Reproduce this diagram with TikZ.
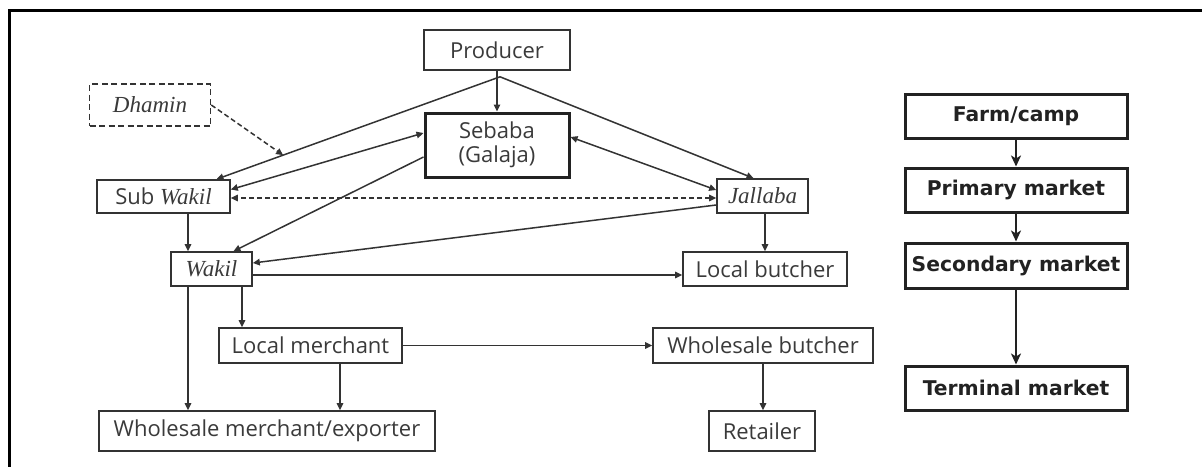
\documentclass[tikz,border=0pt]{standalone}
\usepackage{fontspec}
\usetikzlibrary{calc,arrows.meta}
\newfontfamily\sansf{Open Sans}
\newfontfamily\serf{Liberation Serif}
\newfontfamily\boldf{DejaVu Sans}
\definecolor{ln}{HTML}{333333}
\definecolor{tx}{HTML}{3A3A3A}
\definecolor{dk}{HTML}{222222}
\tikzset{
  box/.style={draw=ln, line width=1.6pt, inner sep=0pt, text=tx, align=center,
    font=\sansf\fontsize{22}{24}\selectfont},
  thickbox/.style={box, line width=3pt, draw=dk},
  dbox/.style={box, dash pattern=on 6pt off 3.5pt},
  stage/.style={draw=dk, line width=3pt, inner sep=0pt, text=dk,
    minimum width=222pt, minimum height=44pt,
    font=\boldf\bfseries\fontsize{20.3}{22}\selectfont},
  conn/.style={draw=ln, line width=1.5pt, -{Triangle[length=7pt,width=6.5pt]}},
  bconn/.style={conn, {Triangle[length=7pt,width=6.5pt]}-{Triangle[length=7pt,width=6.5pt]}},
  dconn/.style={conn, dash pattern=on 5pt off 3pt},
  sconn/.style={draw=dk, line width=2.8pt, -{Stealth[length=11pt,width=10pt,inset=3pt]}},
  it/.style={font=\serf\itshape\fontsize{23}{24}\selectfont}
}
\begin{document}
\begin{tikzpicture}[x=1pt,y=-1pt]
\useasboundingbox (0,0) rectangle (1202,467);
% frame
\draw[line width=3pt, draw=black] (1202,10.5) -- (9.5,10.5) -- (9.5,467);
% nodes
\node[box, minimum width=146pt, minimum height=40pt] (prod) at (497,50) {Producer};
\node[thickbox, minimum width=144pt, minimum height=64pt] (seb) at (497,145) {Sebaba\\(Galaja)};
\node[dbox, minimum width=121pt, minimum height=42pt, it] (dham) at (150,105) {Dhamin};
\node[box, minimum width=133pt, minimum height=33pt] (subw) at (163.5,196.5) {Sub {\serf\itshape\fontsize{23}{24}\selectfont Wakil}};
\node[box, minimum width=91pt, minimum height=34pt, it] (jal) at (762.5,196) {Jallaba};
\node[box, minimum width=81pt, minimum height=34pt, it] (wak) at (211.5,269) {Wakil};
\node[box, minimum width=164pt, minimum height=34pt] (lb) at (765,269) {Local butcher};
\node[box, minimum width=183pt, minimum height=35pt] (lm) at (310.5,345.5) {Local merchant};
\node[box, minimum width=220pt, minimum height=35pt] (wb) at (763,345.5) {Wholesale butcher};
\node[box, minimum width=336pt, minimum height=40pt] (wm) at (267,431) {Wholesale merchant/exporter};
\node[box, minimum width=106pt, minimum height=40pt] (ret) at (762,431) {Retailer};
% stages
\node[stage] (farm) at (1016,116) {Farm/camp};
\node[stage] (prim) at (1016,190) {Primary market};
\node[stage, minimum height=45pt] (sec) at (1016,265.5) {Secondary market};
\node[stage] (term) at (1016,388) {Terminal market};
% connectors
\coordinate (pf) at ($(prod.south)+(3,6)$);
\coordinate (sw1) at ($(subw.north)+(53,0)$);
\coordinate (dh) at ($(pf)!0.765!(sw1)$);
\draw[conn] (prod.south) -- (seb.north);
\draw[conn] (pf) -- (sw1);
\draw[conn] (pf) -- ($(jal.north)+(-9,0)$);
\draw[dconn] (dham.east) -- (dh);
\draw[bconn] ($(subw.east)+(0,-7)$) -- ($(seb.west)+(0,-12)$);
\draw[conn] ($(seb.west)+(0,12)$) -- ($(wak.north)+(22,0)$);
\draw[bconn] ($(seb.east)+(0,-8)$) -- ($(jal.west)+(0,-6)$);
\draw[bconn, dash pattern=on 5pt off 3pt] ($(jal.west)+(0,2)$) -- ($(subw.east)+(0,1.5)$);
\draw[conn] ($(jal.west)+(0,9)$) -- ($(wak.east)+(0,-6)$);
\draw[conn] ($(wak.east)+(0,6)$) -- ($(lb.west)+(0,6)$);
\draw[conn] (jal.south -| lb.north) -- (lb.north);
\coordinate (sv) at ($(subw.south)+(24.5,0)$);
\draw[conn] (sv) -- (sv |- wak.north);
\coordinate (wl) at ($(wak.south)+(30.5,0)$);
\draw[conn] (wl) -- (wl |- lm.north);
\coordinate (wv) at ($(wak.south)+(-23.5,0)$);
\draw[conn] (wv) -- (wv |- wm.north);
\coordinate (lmv) at ($(lm.south)+(29.5,0)$);
\draw[conn] (lmv) -- (lmv |- wm.north);
\draw[conn] (lm.east) -- (lm.east -| wb.west);
\draw[conn] (wb.south) -- (wb.south |- ret.north);
\draw[sconn] (farm.south) -- (prim.north);
\draw[sconn] (prim.south) -- (sec.north);
\draw[sconn] (sec.south) -- (term.north);
\end{tikzpicture}
\end{document}
